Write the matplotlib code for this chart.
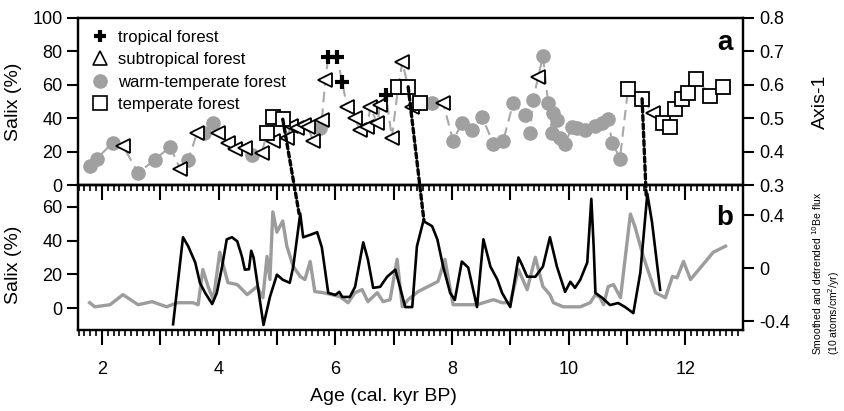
import matplotlib
matplotlib.use('Agg')
import matplotlib.pyplot as plt
from matplotlib.ticker import MultipleLocator, FuncFormatter, FixedLocator
from matplotlib.patches import ConnectionPatch
from matplotlib.lines import Line2D
import numpy as np

plt.rcParams['font.family'] = ['Liberation Sans', 'DejaVu Sans']

# ---- panel a: vegetation types (Axis-1 scores) ----
tropical_age = [5.88, 6.03, 6.12, 6.87]
tropical_val = [0.682, 0.682, 0.609, 0.570]

subtrop_age = [2.36, 3.34, 3.63, 3.99, 4.16, 4.28, 4.45, 4.74, 4.93, 5.17, 5.24, 5.34,
               5.46, 5.53, 5.62, 5.77, 5.83, 6.20, 6.34, 6.42, 6.55, 6.60, 6.72, 6.77,
               6.97, 7.15, 7.32, 7.85, 9.48, 11.45]
subtrop_val = [0.418, 0.348, 0.455, 0.455, 0.427, 0.409, 0.412, 0.397, 0.433, 0.442, 0.478, 0.470,
               0.480, 0.473, 0.433, 0.494, 0.615, 0.533, 0.500, 0.464, 0.473, 0.533, 0.485, 0.539,
               0.442, 0.667, 0.533, 0.545, 0.624, 0.515]

warm_age = [1.79, 1.91, 2.19, 2.62, 2.91, 3.17, 3.48, 3.75, 3.90, 4.57, 5.74, 7.66, 8.02,
            8.17, 8.35, 8.52, 8.71, 8.88, 9.05, 9.26, 9.34, 9.39, 9.56, 9.65, 9.72, 9.74,
            9.80, 9.86, 9.94, 10.06, 10.15, 10.28, 10.45, 10.57, 10.67, 10.75, 10.88]
warm_val = [0.358, 0.379, 0.427, 0.336, 0.376, 0.415, 0.376, 0.455, 0.485, 0.391, 0.470, 0.545, 0.433,
            0.485, 0.464, 0.503, 0.424, 0.433, 0.545, 0.509, 0.455, 0.555, 0.685, 0.545, 0.455, 0.515,
            0.494, 0.442, 0.424, 0.473, 0.470, 0.464, 0.476, 0.485, 0.497, 0.427, 0.379]

temp_age = [4.83, 4.93, 5.10, 7.08, 7.25, 7.45, 11.02, 11.26, 11.62, 11.73, 11.83, 11.95,
            12.05, 12.19, 12.43, 12.65]
temp_val = [0.455, 0.503, 0.497, 0.594, 0.594, 0.545, 0.588, 0.558, 0.485, 0.473, 0.527, 0.558,
            0.576, 0.618, 0.567, 0.594]

# ---- panel b: Salix (%) and 10Be flux ----
salix_age = [3.22, 3.39, 3.48, 3.60, 3.68, 3.77, 3.89, 3.97, 4.06, 4.14, 4.23, 4.32, 4.40,
             4.45, 4.52, 4.56, 4.60, 4.77, 4.88, 5.00, 5.10, 5.22, 5.28, 5.40, 5.45, 5.60,
             5.69, 5.77, 5.88, 6.00, 6.07, 6.12, 6.25, 6.34, 6.48, 6.56, 6.65, 6.77, 6.89,
             7.03, 7.20, 7.32, 7.40, 7.51, 7.66, 7.75, 7.85, 7.97, 8.05, 8.17, 8.28, 8.43,
             8.54, 8.66, 8.78, 8.86, 9.00, 9.14, 9.20, 9.29, 9.43, 9.56, 9.68, 9.80, 9.94,
             10.03, 10.11, 10.20, 10.32, 10.39, 10.43, 10.46, 10.58, 10.71, 10.85, 10.97,
             11.11, 11.23, 11.35, 11.43, 11.57]
salix_val = [-9.6, 42.0, 36.6, 27.0, 15.0, 9.0, 2.4, 9.0, 24.6, 40.8, 42.0, 39.6, 30.6,
             22.8, 23.0, 34.0, 30.0, -10.0, 6.6, 19.8, 16.8, 15.0, 24.6, 56.0, 42.0, 43.8,
             45.0, 36.0, 9.0, 7.8, 9.6, 6.6, 6.6, 12.6, 39.0, 28.8, 12.0, 12.6, 18.6,
             22.8, 0.6, 0.6, 36.6, 51.6, 48.6, 40.8, 24.6, 9.0, 4.8, 27.6, 24.0, 0.6,
             40.8, 24.6, 16.8, 9.0, 0.6, 30.0, 25.8, 18.6, 18.6, 24.6, 42.0, 24.6, 9.6,
             15.6, 12.0, 16.8, 27.0, 64.8, 36.6, 9.0, 6.0, 1.8, 3.0, 0.6,
             -3.0, 21.0, 67.8, 51.0, 10.8]

be_age = [1.79, 1.88, 2.14, 2.36, 2.62, 2.86, 3.11, 3.29, 3.56, 3.65, 3.73, 3.82, 3.91,
          4.02, 4.16, 4.32, 4.49, 4.66, 4.76, 4.83, 4.88, 4.93, 5.00, 5.10, 5.17, 5.28,
          5.40, 5.48, 5.57, 5.65, 5.79, 5.94, 6.08, 6.22, 6.34, 6.46, 6.56, 6.72, 6.82,
          6.94, 7.06, 7.15, 7.25, 7.42, 7.59, 7.76, 7.88, 8.02, 8.23, 8.43, 8.60, 8.71,
          8.86, 9.00, 9.14, 9.29, 9.43, 9.56, 9.68, 9.74, 9.91, 10.08, 10.20, 10.37,
          10.46, 10.54, 10.60, 10.68, 10.77, 10.89, 11.06, 11.14, 11.28, 11.49, 11.66,
          11.78, 11.86, 11.97, 12.09, 12.38, 12.48, 12.69]
be_val = [-0.259, -0.290, -0.274, -0.198, -0.274, -0.251, -0.290, -0.259, -0.259, -0.274, -0.008, -0.137, -0.236,
          0.122, -0.107, -0.122, -0.198, -0.137, -0.221, 0.091, -0.084, 0.427, 0.274, 0.358, 0.168, 0.015,
          -0.061, -0.084, 0.053, -0.175, -0.183, -0.198, -0.213, -0.259, -0.183, -0.160, -0.251, -0.183, -0.251,
          -0.236, 0.069, -0.290, -0.236, -0.175, -0.137, -0.099, 0.069, -0.274, -0.274, -0.274, -0.251, -0.236,
          -0.259, -0.259, -0.008, -0.160, 0.084, -0.137, -0.198, -0.259, -0.290, -0.290, -0.290, -0.259,
          -0.198, -0.221, -0.274, -0.137, -0.122, -0.221, 0.411, 0.312, 0.091, -0.183, -0.221,
          -0.061, -0.070, 0.053, -0.084, 0.069, 0.122, 0.168]

# dotted tie lines: (age, Axis-1) in panel a -> (age, Salix) in panel b
tie_a_age = [5.10, 7.25, 11.26]
tie_a_val = [0.497, 0.594, 0.558]
tie_b_age = [5.38, 7.52, 11.33]
tie_b_val = [56.0, 52.0, 67.0]

fig = plt.figure(figsize=(8.44, 4.11), dpi=100)
left, right = 78 / 844, 743 / 844
ax1 = fig.add_axes([left, 1 - 185 / 411, right - left, 167 / 411])
ax2 = fig.add_axes([left, 1 - 330 / 411, right - left, 145 / 411], sharex=ax1)
ax1r = ax1.twinx()
ax2r = ax2.twinx()

for ax in (ax1, ax2, ax1r, ax2r):
    for s in ax.spines.values():
        s.set_linewidth(1.6)
    ax.tick_params(labelsize=13, width=1.5)

# panel a
all_age = np.array(tropical_age + subtrop_age + warm_age + temp_age)
all_val = np.array(tropical_val + subtrop_val + warm_val + temp_val)
order = np.argsort(all_age)
ax1r.plot(all_age[order], all_val[order], color='#a8a8a8', lw=1.5, ls=(0, (5, 3)), zorder=1)
ax1r.plot(warm_age, warm_val, 'o', ms=9.5, color='#a0a0a0', mec='#a0a0a0', zorder=2)
ax1r.plot(subtrop_age, subtrop_val, '<', ms=10, mfc='white', mec='black', mew=1.3, zorder=3)
ax1r.plot(temp_age, temp_val, 's', ms=10, mfc='white', mec='black', mew=1.3, zorder=3)
ax1r.plot(tropical_age, tropical_val, '+', ms=10, color='black', mew=3, zorder=4)

ax1.set_xlim(1.59, 12.99)
ax1.set_ylim(0, 100)
ax1.set_yticks([0, 20, 40, 60, 80, 100])
ax1r.set_ylim(0.3, 0.8)
ax1r.set_yticks([0.3, 0.4, 0.5, 0.6, 0.7, 0.8])
ax1.set_ylabel('Salix (%)', fontsize=14)
ax1.yaxis.set_label_coords(-0.084, 0.5)
ax1r.set_ylabel('Axis-1', fontsize=14)
ax1r.yaxis.set_label_coords(1.104, 0.5)
ax1.tick_params(axis='y', length=8, pad=3)
ax1r.tick_params(axis='y', length=8, pad=4)
ax1.tick_params(axis='x', which='major', direction='out', length=11, labelbottom=False)
ax1.tick_params(axis='x', which='minor', direction='out', length=4.5, width=1.2)
ax1.text(0.985, 0.93, 'a', transform=ax1.transAxes, fontsize=20, fontweight='bold',
         ha='right', va='top')

handles = [
    Line2D([], [], ls='none', marker='+', ms=9, color='black', mew=3),
    Line2D([], [], ls='none', marker='^', ms=10, mfc='white', mec='black', mew=1.2),
    Line2D([], [], ls='none', marker='o', ms=9.5, color='#a0a0a0'),
    Line2D([], [], ls='none', marker='s', ms=10, mfc='white', mec='black', mew=1.2),
]
ax1r.legend(handles, ['tropical forest', 'subtropical forest', 'warm-temperate forest',
                      'temperate forest'],
            loc='upper left', bbox_to_anchor=(0.0, 1.0), frameon=False, fontsize=12,
            handletextpad=0.5, labelspacing=0.45, borderaxespad=0.3, handlelength=1.2)

# panel b
ax2r.plot(be_age, be_val, color='#9c9c9c', lw=2.4, zorder=1)
ax2.plot(salix_age, salix_val, color='black', lw=1.9, zorder=3)
ax2.set_zorder(ax2r.get_zorder() + 1)
ax2.patch.set_visible(False)
ax2.set_ylim(-13, 73)
ax2.set_yticks([0, 20, 40, 60])
ax2r.set_ylim(-0.465, 0.63)
ax2r.yaxis.set_major_locator(FixedLocator([-0.4, 0, 0.4]))
ax2r.yaxis.set_major_formatter(FuncFormatter(lambda v, p: '0' if abs(v) < 1e-9 else f'{v:.1f}'))
ax2.set_ylabel('Salix (%)', fontsize=14)
ax2.yaxis.set_label_coords(-0.084, 0.45)
ax2.tick_params(axis='y', length=8, pad=3)
ax2r.tick_params(axis='y', length=8, pad=4)
ax2.xaxis.set_major_locator(MultipleLocator(1))
ax2.xaxis.set_minor_locator(MultipleLocator(0.1))
ax2.xaxis.set_major_formatter(FuncFormatter(lambda v, p: f'{int(round(v))}' if int(round(v)) % 2 == 0 else ''))
ax2.tick_params(axis='x', which='major', direction='out', length=11, pad=11)
ax2.tick_params(axis='x', which='minor', direction='out', length=4.5, width=1.2)
ax2.set_xlabel('Age (cal. kyr BP)', fontsize=14)
ax2.xaxis.set_label_coords(0.46, -0.4)
ax2.text(0.985, 0.86, 'b', transform=ax2.transAxes, fontsize=20, fontweight='bold',
         ha='right', va='top')

fig.text(0.979, 1 - 355 / 411,
         'Smoothed and detrended $^{10}$Be flux\n(10 atoms/cm$^2$/yr)',
         rotation=90, fontsize=7.5, ha='center', va='bottom', multialignment='left')

for xa, ya, xb, yb in zip(tie_a_age, tie_a_val, tie_b_age, tie_b_val):
    con = ConnectionPatch(xyA=(xa, ya), coordsA=ax1r.transData,
                          xyB=(xb, yb), coordsB=ax2.transData,
                          color='black', lw=2.4, ls=(0, (1.5, 1)), zorder=10)
    fig.add_artist(con)

fig.savefig('out.png', dpi=100)
